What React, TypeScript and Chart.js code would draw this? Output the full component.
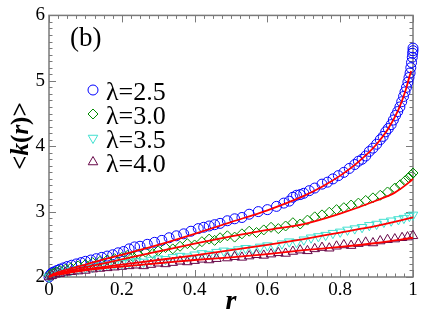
import React, { useEffect, useRef } from 'react';
import { Chart, registerables } from 'chart.js';

Chart.register(...registerables);

const SERIF = '"Liberation Serif"';

// Axis ticks
const xTicks = [0, 0.2, 0.4, 0.6, 0.8, 1];
const xTickLabels = ['0', '0.2', '0.4', '0.6', '0.8', '1'];
const yTicks = [2, 3, 4, 5, 6];
const yTickLabels = ['2', '3', '4', '5', '6'];
const seriesLabels = ['λ=2.5', 'λ=3.0', 'λ=3.5', 'λ=4.0'];
const panelLabel = '(b)';

// λ=2.5 (circles)
const r25 = [0.000, 0.003, 0.006, 0.010, 0.015, 0.022, 0.030, 0.040, 0.050, 0.062, 0.075, 0.088, 0.100, 0.115, 0.130, 0.145, 0.160, 0.175, 0.190, 0.205, 0.220, 0.235, 0.250, 0.270, 0.290, 0.310, 0.330, 0.350, 0.370, 0.390, 0.410, 0.425, 0.440, 0.455, 0.470, 0.490, 0.510, 0.530, 0.550, 0.575, 0.600, 0.625, 0.645, 0.660, 0.670, 0.680, 0.690, 0.700, 0.715, 0.730, 0.750, 0.765, 0.780, 0.795, 0.810, 0.825, 0.840, 0.850, 0.860, 0.870, 0.880, 0.890, 0.900, 0.910, 0.918, 0.925, 0.932, 0.940, 0.946, 0.952, 0.958, 0.964, 0.969, 0.974, 0.978, 0.982, 0.986, 0.989, 0.992, 0.994, 0.996, 0.998, 0.999, 1.000, 1.000];
const k25 = [2.00, 2.03, 2.05, 2.07, 2.08, 2.10, 2.12, 2.14, 2.16, 2.18, 2.20, 2.22, 2.24, 2.26, 2.28, 2.30, 2.32, 2.34, 2.37, 2.39, 2.43, 2.46, 2.47, 2.50, 2.53, 2.56, 2.60, 2.63, 2.66, 2.70, 2.74, 2.76, 2.78, 2.80, 2.82, 2.86, 2.89, 2.91, 2.96, 3.00, 3.03, 3.08, 3.13, 3.16, 3.22, 3.25, 3.26, 3.28, 3.32, 3.36, 3.42, 3.45, 3.50, 3.55, 3.60, 3.66, 3.72, 3.77, 3.80, 3.85, 3.92, 3.97, 4.03, 4.10, 4.15, 4.22, 4.27, 4.33, 4.40, 4.47, 4.53, 4.60, 4.68, 4.76, 4.83, 4.90, 4.98, 5.05, 5.12, 5.20, 5.28, 5.36, 5.42, 5.46, 5.50];

// λ=3.0 (diamonds)
const r30 = [0.000, 0.005, 0.012, 0.020, 0.030, 0.045, 0.060, 0.080, 0.100, 0.120, 0.140, 0.160, 0.180, 0.200, 0.215, 0.230, 0.245, 0.265, 0.285, 0.300, 0.320, 0.340, 0.360, 0.380, 0.400, 0.420, 0.440, 0.455, 0.470, 0.490, 0.510, 0.530, 0.550, 0.570, 0.590, 0.610, 0.630, 0.650, 0.670, 0.690, 0.710, 0.730, 0.750, 0.770, 0.790, 0.810, 0.830, 0.850, 0.870, 0.890, 0.910, 0.930, 0.950, 0.965, 0.978, 0.988, 0.995, 1.000];
const k30 = [2.02, 2.04, 2.06, 2.08, 2.10, 2.12, 2.14, 2.17, 2.19, 2.22, 2.24, 2.26, 2.28, 2.30, 2.33, 2.31, 2.35, 2.38, 2.36, 2.40, 2.45, 2.43, 2.47, 2.51, 2.49, 2.54, 2.58, 2.56, 2.60, 2.63, 2.61, 2.66, 2.70, 2.68, 2.72, 2.76, 2.74, 2.78, 2.83, 2.81, 2.87, 2.92, 2.95, 2.99, 3.03, 3.06, 3.10, 3.13, 3.17, 3.21, 3.25, 3.30, 3.36, 3.41, 3.47, 3.52, 3.56, 3.59];

// λ=3.5 (down triangles)
const r35 = [0.000, 0.008, 0.018, 0.030, 0.045, 0.060, 0.080, 0.100, 0.120, 0.140, 0.160, 0.180, 0.200, 0.220, 0.240, 0.260, 0.280, 0.300, 0.320, 0.340, 0.360, 0.380, 0.400, 0.420, 0.440, 0.460, 0.480, 0.500, 0.520, 0.540, 0.560, 0.580, 0.600, 0.620, 0.640, 0.660, 0.680, 0.700, 0.720, 0.740, 0.760, 0.780, 0.800, 0.820, 0.840, 0.860, 0.880, 0.900, 0.920, 0.940, 0.960, 0.975, 0.990, 1.000];
const k35 = [2.00, 2.03, 2.05, 2.07, 2.09, 2.10, 2.12, 2.14, 2.15, 2.17, 2.18, 2.20, 2.21, 2.22, 2.24, 2.23, 2.26, 2.28, 2.27, 2.30, 2.32, 2.31, 2.34, 2.36, 2.35, 2.38, 2.40, 2.39, 2.42, 2.44, 2.43, 2.46, 2.48, 2.47, 2.51, 2.54, 2.53, 2.57, 2.60, 2.62, 2.64, 2.67, 2.69, 2.72, 2.74, 2.76, 2.79, 2.81, 2.84, 2.86, 2.88, 2.90, 2.93, 2.95];

// λ=4.0 (up triangles)
const r40 = [0.000, 0.008, 0.018, 0.030, 0.045, 0.060, 0.080, 0.100, 0.120, 0.140, 0.160, 0.180, 0.200, 0.220, 0.240, 0.260, 0.280, 0.300, 0.320, 0.340, 0.360, 0.380, 0.400, 0.420, 0.440, 0.460, 0.490, 0.510, 0.530, 0.550, 0.570, 0.590, 0.610, 0.630, 0.650, 0.670, 0.690, 0.710, 0.730, 0.750, 0.770, 0.790, 0.810, 0.830, 0.850, 0.870, 0.890, 0.910, 0.930, 0.950, 0.970, 0.985, 1.000];
const k40 = [2.00, 2.02, 2.04, 2.05, 2.07, 2.08, 2.09, 2.10, 2.12, 2.13, 2.14, 2.15, 2.16, 2.17, 2.18, 2.17, 2.19, 2.21, 2.20, 2.22, 2.24, 2.23, 2.25, 2.27, 2.26, 2.28, 2.29, 2.31, 2.30, 2.32, 2.34, 2.33, 2.35, 2.37, 2.36, 2.39, 2.41, 2.40, 2.43, 2.45, 2.44, 2.47, 2.49, 2.48, 2.51, 2.53, 2.52, 2.55, 2.57, 2.58, 2.60, 2.61, 2.63];

// Fitted curves (red)
const fitR25 = [0, 0.01, 0.03, 0.06, 0.1, 0.15, 0.2, 0.3, 0.4, 0.5, 0.6, 0.7, 0.75, 0.8, 0.85, 0.9, 0.93, 0.96, 0.98, 0.99, 0.995];
const fitK25 = [2.0, 2.04, 2.08, 2.13, 2.19, 2.27, 2.34, 2.49, 2.66, 2.84, 3.02, 3.24, 3.38, 3.55, 3.76, 4.03, 4.25, 4.56, 4.86, 5.06, 5.15];
const fitR30 = [0, 0.01, 0.03, 0.06, 0.1, 0.15, 0.2, 0.3, 0.4, 0.5, 0.6, 0.7, 0.8, 0.9, 0.95, 0.99, 1.0];
const fitK30 = [2.0, 2.03, 2.06, 2.1, 2.15, 2.21, 2.27, 2.39, 2.51, 2.62, 2.72, 2.81, 2.97, 3.17, 3.29, 3.45, 3.5];
const fitR35 = [0, 0.01, 0.03, 0.1, 0.2, 0.3, 0.4, 0.5, 0.6, 0.7, 0.8, 0.9, 1.0];
const fitK35 = [2.0, 2.03, 2.05, 2.12, 2.19, 2.26, 2.33, 2.41, 2.49, 2.58, 2.68, 2.78, 2.91];
const fitR40 = [0, 0.01, 0.03, 0.1, 0.2, 0.3, 0.4, 0.5, 0.6, 0.7, 0.8, 0.9, 1.0];
const fitK40 = [2.0, 2.02, 2.04, 2.1, 2.16, 2.21, 2.26, 2.3, 2.35, 2.41, 2.46, 2.52, 2.6];

const COLORS = ['rgb(0,0,255)', 'rgb(0,139,0)', 'rgb(64,224,208)', 'rgb(103,7,72)'];
const SHAPES = ['circle', 'diamond', 'down', 'up'];

const zip = (xs: number[], ys: number[]) => xs.map((x, i) => ({ x, y: ys[i] }));

function drawMarker(ctx: CanvasRenderingContext2D, shape: string, x: number, y: number, r: number, color: string) {
  ctx.save();
  ctx.strokeStyle = color;
  ctx.lineWidth = 1;
  ctx.beginPath();
  if (shape === 'circle') {
    ctx.arc(x, y, r, 0, Math.PI * 2);
  } else if (shape === 'diamond') {
    ctx.moveTo(x - r, y);
    ctx.lineTo(x, y - r);
    ctx.lineTo(x + r, y);
    ctx.lineTo(x, y + r);
    ctx.closePath();
  } else {
    const s = shape === 'up' ? 1 : -1;
    const h = r * 1.5;
    const w = r * Math.sqrt(3) / 2;
    ctx.moveTo(x, y - s * r);
    ctx.lineTo(x + w, y + s * (h - r));
    ctx.lineTo(x - w, y + s * (h - r));
    ctx.closePath();
  }
  ctx.stroke();
  ctx.restore();
}

const decor = {
  id: 'decor',
  beforeDatasetsDraw(chart: any) {
    const { ctx, chartArea: a, scales } = chart;
    const xs = scales.x;
    const ys = scales.y;
    ctx.save();
    ctx.strokeStyle = '#7a7a7a';
    ctx.lineWidth = 1.5;
    ctx.strokeRect(a.left, a.top, a.right - a.left, a.bottom - a.top);
    ctx.lineWidth = 1;
    const xMinor: number[] = [];
    for (let i = 0; i <= 40; i++) xMinor.push(i / 40);
    const yMinor: number[] = [];
    for (let i = 0; i <= 40; i++) yMinor.push(2 + i / 10);
    ctx.beginPath();
    xMinor.forEach((v) => {
      const px = Math.round(xs.getPixelForValue(v)) + 0.5;
      const major = xTicks.some((t) => Math.abs(t - v) < 1e-6);
      const len = major ? 7 : 3.5;
      ctx.moveTo(px, a.bottom);
      ctx.lineTo(px, a.bottom - len);
      ctx.moveTo(px, a.top);
      ctx.lineTo(px, a.top + len);
    });
    yMinor.forEach((v) => {
      const py = Math.round(ys.getPixelForValue(v)) + 0.5;
      const major = yTicks.some((t) => Math.abs(t - v) < 1e-6);
      const len = major ? 7 : 3.5;
      ctx.moveTo(a.left, py);
      ctx.lineTo(a.left + len, py);
      ctx.moveTo(a.right, py);
      ctx.lineTo(a.right - len, py);
    });
    ctx.stroke();
    ctx.restore();
  },
  afterDraw(chart: any) {
    const { ctx, chartArea: a } = chart;
    ctx.save();
    ctx.fillStyle = '#000';
    ctx.textBaseline = 'alphabetic';
    ctx.font = `27px ${SERIF}`;
    ctx.textAlign = 'left';
    ctx.fillText(panelLabel, 70, 46);
    const rows = [90, 114, 138, 162];
    seriesLabels.forEach((lab, i) => {
      const rr = SHAPES[i] === 'circle' ? 5 : SHAPES[i] === 'diamond' ? 5 : 5.5;
      drawMarker(ctx, SHAPES[i], 93, rows[i], rr, COLORS[i]);
      ctx.font = `26px ${SERIF}`;
      ctx.fillStyle = '#000';
      ctx.fillText(lab, 106, rows[i] + 10);
    });
    ctx.font = `italic bold 28px ${SERIF}`;
    ctx.textAlign = 'center';
    ctx.fillText('r', (a.left + a.right) / 2, 309);
    const parts: [string, boolean][] = [['<', false], ['k', true], ['(', false], ['r', true], [')', false], ['>', false]];
    const fontFor = (it: boolean) => `${it ? 'italic ' : ''}bold 25px ${SERIF}`;
    let total = 0;
    parts.forEach(([t, it]) => { ctx.font = fontFor(it); total += ctx.measureText(t).width; });
    ctx.translate(28, 136);
    ctx.rotate(-Math.PI / 2);
    ctx.textAlign = 'left';
    let cx = -total / 2;
    parts.forEach(([t, it]) => {
      ctx.font = fontFor(it);
      ctx.fillText(t, cx, 0);
      cx += ctx.measureText(t).width;
    });
    ctx.restore();
  },
};

export default function App() {
  const ref = useRef<HTMLCanvasElement | null>(null);
  useEffect(() => {
    const canvas = ref.current;
    if (!canvas) return;
    const fitSets = [
      [fitR25, fitK25],
      [fitR30, fitK30],
      [fitR35, fitK35],
      [fitR40, fitK40],
    ].map(([xs, ys]) => ({
      data: zip(xs, ys),
      showLine: true,
      borderColor: 'rgb(255,0,0)',
      borderWidth: 1.8,
      pointRadius: 0,
      cubicInterpolationMode: 'monotone' as const,
      fill: false,
      clip: false as any,
      order: 0,
    }));
    const pointSets = [
      { data: zip(r25, k25), pointStyle: 'circle', pointRadius: 5, pointRotation: 0 },
      { data: zip(r30, k30), pointStyle: 'rectRot', pointRadius: 5, pointRotation: 0 },
      { data: zip(r35, k35), pointStyle: 'triangle', pointRadius: 5.5, pointRotation: 180 },
      { data: zip(r40, k40), pointStyle: 'triangle', pointRadius: 5.5, pointRotation: 0 },
    ].map((d, i) => ({
      ...d,
      label: seriesLabels[i],
      showLine: false,
      borderColor: COLORS[i],
      backgroundColor: 'rgba(0,0,0,0)',
      pointBorderWidth: 1,
      clip: false as any,
      order: 4 - i,
    }));
    const chart = new Chart(canvas, {
      type: 'scatter',
      data: { datasets: [...fitSets, ...pointSets] as any },
      options: {
        animation: false,
        responsive: false,
        maintainAspectRatio: false,
        layout: { padding: { top: 10, right: 10, left: 0, bottom: 0 } },
        plugins: { legend: { display: false }, tooltip: { enabled: false } },
        scales: {
          x: {
            type: 'linear',
            min: 0,
            max: 1,
            afterBuildTicks: (s: any) => { s.ticks = xTicks.map((v) => ({ value: v })); },
            afterFit: (s: any) => { s.height = 50; },
            grid: { display: false, drawTicks: false },
            border: { display: false },
            ticks: {
              autoSkip: false,
              maxRotation: 0,
              padding: 2,
              color: '#000',
              font: { family: SERIF, size: 19 },
              callback: (_v: any, i: number) => xTickLabels[i],
            },
          },
          y: {
            type: 'linear',
            min: 2,
            max: 6,
            afterBuildTicks: (s: any) => { s.ticks = yTicks.map((v) => ({ value: v })); },
            afterFit: (s: any) => { s.width = 49; },
            grid: { display: false, drawTicks: false },
            border: { display: false },
            ticks: {
              autoSkip: false,
              padding: 4,
              color: '#000',
              font: { family: SERIF, size: 19 },
              callback: (_v: any, i: number) => yTickLabels[i],
            },
          },
        },
      },
      plugins: [decor],
    });
    return () => chart.destroy();
  }, []);
  return (
    <div style={{ position: 'absolute', left: 0, top: 0, width: 423, height: 327, background: '#fff' }}>
      <canvas ref={ref} width={423} height={327} style={{ width: 423, height: 327, display: 'block' }} />
    </div>
  );
}
